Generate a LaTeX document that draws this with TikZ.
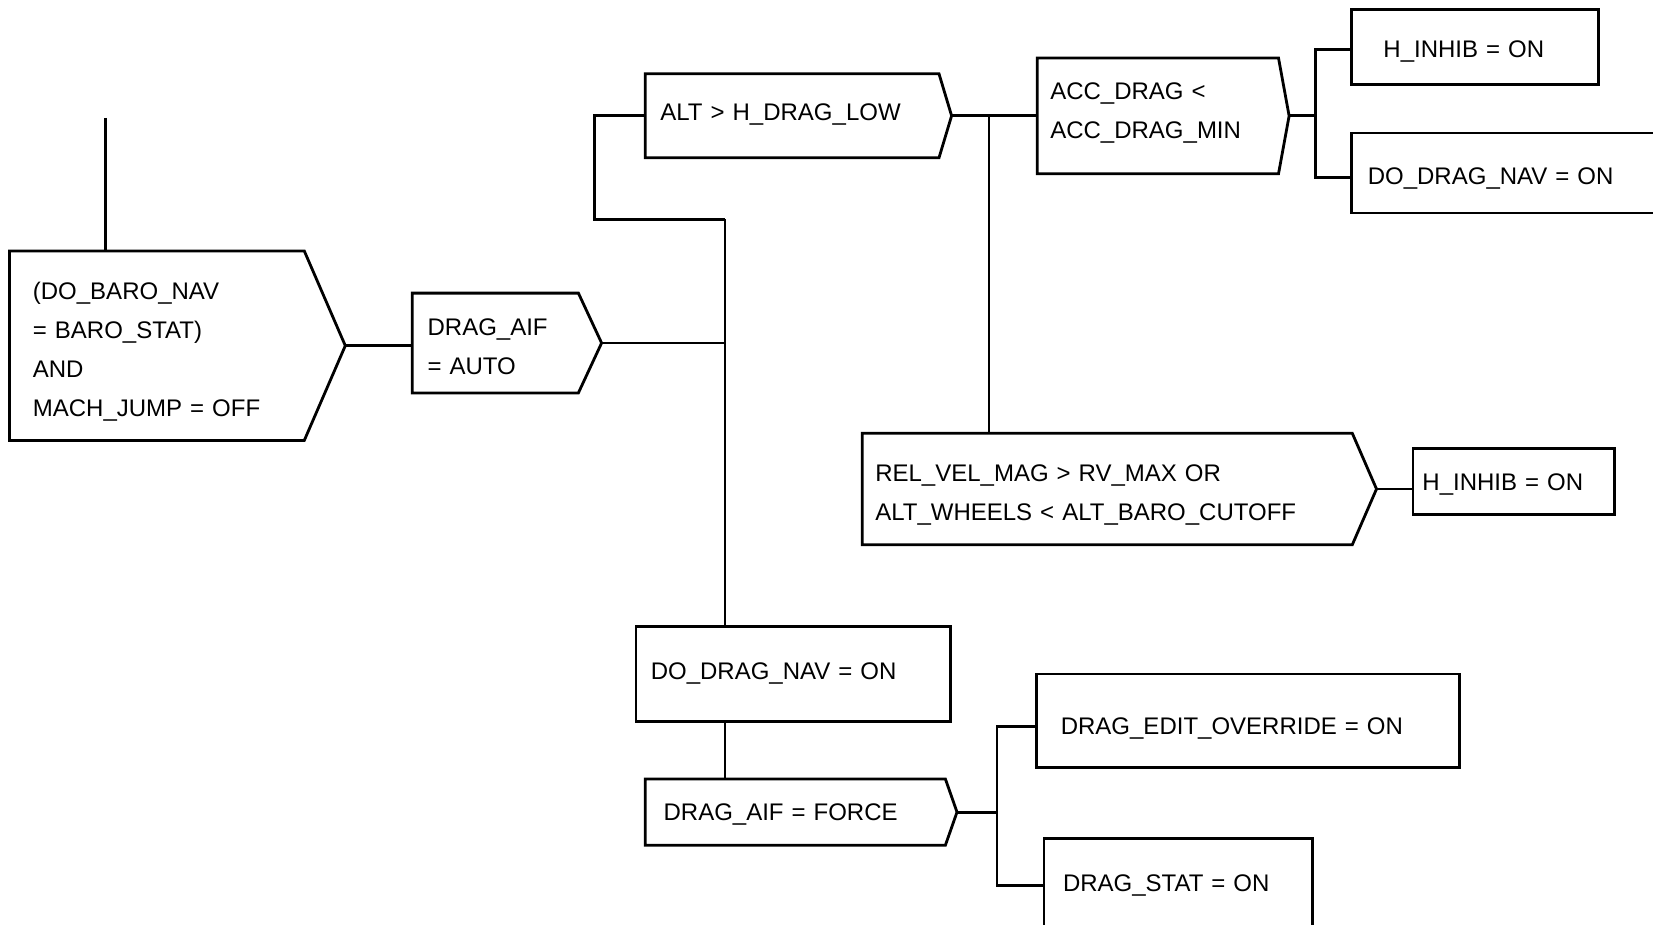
\documentclass[tikz,border=0pt]{standalone}
\usepackage{fontspec}
\setmainfont{Liberation Sans}
\usetikzlibrary{positioning,calc}

\begin{document}
\begin{tikzpicture}[
  x=0.5pt, y=-0.5pt,
  line/.style={line width=1.4pt, line join=miter},
  cell/.style={anchor=north west, inner xsep=#1, inner ysep=0pt, align=left,
    font=\fontsize{12}{19.5}\selectfont},
  act/.style={cell=#1, draw, line width=1.4pt},
  cond/.style={cell=#1},
  drop/.style={execute at begin node={\rule{0pt}{\dimexpr14pt+#1\relax}},
    execute at end node={\rule[\dimexpr#1-8pt\relax]{0pt}{\dimexpr8pt-#1\relax}}}
]
  \useasboundingbox (0,0) rectangle (1653,925);

  \node[cond=11.5pt, drop=3.1pt, text width=124pt, minimum height=94.3pt] (baro) at (9.5,251)
    {(DO\_BARO\_NAV\\= BARO\_STAT)\\AND\\MACH\_JUMP = OFF};
  \node[cond=7.5pt, drop=2.9pt, text width=67.7pt, minimum height=49.5pt] (aifauto) at (412.2,293.1)
    {DRAG\_AIF\\= AUTO};
  \node[cond=7.4pt, drop=-0.5pt, text width=131.7pt, minimum height=41.6pt] (altlow) at (645.2,73.8)
    {ALT > H\_DRAG\_LOW};
  \node[cond=6.3pt, drop=-1.6pt, text width=107.6pt, minimum height=57.5pt] (accmin) at (1037.3,58)
    {ACC\_DRAG <\\ACC\_DRAG\_MIN};
  \node[act=15.8pt, drop=2.1pt, text width=91.8pt, minimum height=37.4pt] (hinhib1) at (1350.4,8.4)
    {H\_INHIB = ON};
  \node[act=8pt, drop=2.6pt, text width=184pt, minimum height=40pt] (dragnav1) at (1350.4,131.7)
    {DO\_DRAG\_NAV = ON};
  \node[cond=6.3pt, drop=3.1pt, text width=232pt, minimum height=55.3pt] (relvel) at (862.3,433.3)
    {REL\_VEL\_MAG > RV\_MAX OR\\ALT\_WHEELS < ALT\_BARO\_CUTOFF};
  \node[act=4.7pt, drop=1.6pt, text width=91.3pt, minimum height=33.2pt] (hinhib2) at (1411.6,447)
    {H\_INHIB = ON};
  \node[act=7.4pt, drop=0pt, text width=142.3pt, minimum height=47.4pt] (dragnav2) at (634.6,625.1)
    {DO\_DRAG\_NAV = ON};
  \node[cond=9pt, drop=1pt, text width=131.7pt, minimum height=32.7pt] (aifforce) at (645.2,779)
    {DRAG\_AIF = FORCE};
  \node[act=12.1pt, drop=3.7pt, text width=187.2pt, minimum height=46.9pt] (override) at (1035.2,672.6)
    {DRAG\_EDIT\_OVERRIDE = ON};
  \node[act=9.5pt, drop=1pt, text width=115.4pt, minimum height=45pt] (dragstat) at (1042.6,837)
    {DRAG\_STAT = ON};

  \foreach \n/\t in {baro/20.5pt, aifauto/11.6pt, altlow/6.3pt, accmin/5.3pt, relvel/12.1pt, aifforce/5.8pt}
    \draw[line] (\n.north west) -- (\n.north east) -- ([xshift=\t]\n.east) coordinate (\n-tip)
      -- (\n.south east) -- (\n.south west) -- cycle;

  \coordinate (in) at (105.4,118);
  \coordinate (trunk) at (725,219.3);
  \coordinate (loop) at (594.6,219.3);
  \coordinate (relbus) at (989,0);
  \coordinate (split1) at (1315.6,0);
  \coordinate (split2) at (997,0);
  \coordinate (hinhib1-in) at ([yshift=-1.3pt]hinhib1.west);
  \coordinate (dragnav1-in) at ([yshift=-2.2pt]dragnav1.west);
  \coordinate (override-in) at ([yshift=-2.8pt]override.west);
  \coordinate (dragstat-in) at ([yshift=-1.2pt]dragstat.west);

  \draw[line] (in) -- (in |- baro.north);
  \draw[line] (baro-tip) -- (baro-tip -| aifauto.west);
  \draw[line] (aifauto-tip) -- (aifauto-tip -| trunk);
  \draw[line] (trunk) -- (trunk |- dragnav2.north);
  \draw[line] (trunk) -- (loop) |- (altlow.west);
  \draw[line] (altlow-tip) -- (altlow-tip -| accmin.west);
  \draw[line] (relbus |- altlow-tip) -- (relbus |- relvel.north);
  \draw[line] (accmin-tip) -- (accmin-tip -| split1);
  \draw[line] (hinhib1-in) -| (split1 |- dragnav1-in) -- (dragnav1-in);
  \draw[line] (relvel-tip) -- (relvel-tip -| hinhib2.west);
  \draw[line] (trunk |- dragnav2.south) -- (trunk |- aifforce.north);
  \draw[line] (aifforce-tip) -- (aifforce-tip -| split2);
  \draw[line] (override-in) -| (split2 |- dragstat-in) -- (dragstat-in);
\end{tikzpicture}
\end{document}
